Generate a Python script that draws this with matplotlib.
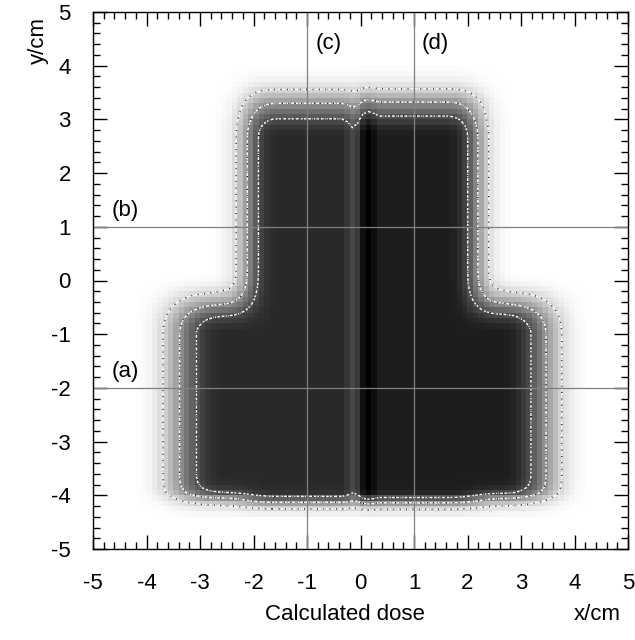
"""
Calculated dose map: grey-scale dose with isodose contours and
the profile lines (a)-(d)
"""

import numpy as np
import matplotlib
matplotlib.use('Agg')
import matplotlib.pyplot as plt
from matplotlib.ticker import MultipleLocator

plt.rcParams['font.family'] = ['Liberation Sans', 'DejaVu Sans']
plt.rcParams['axes.unicode_minus'] = False

# ---- data -------------------------------------------------------------
# plateau dose (grey level, 0 = white, 1 = black) left / right of the join
dose_left = 0.835
dose_right = 0.885
# narrow strips near the field join (cell centre x in cm, dose)
strip_x = [-0.25, -0.15, -0.05, 0.05, 0.15, 0.25]
strip_dose = [0.79, 0.72, 0.77, 0.94, 1.00, 0.95]

# 50 % edges of the two field parts (cm)
lower_field = dict(left=-3.39, right=3.45, bottom=-4.05, top=-0.45)
upper_field = dict(left=-2.12, right=2.18, bottom=-4.05, top=3.31)

# penumbra profiles: relative dose vs distance outside the 50 % edge (cm)
wide_d = [-0.8, -0.7, -0.6, -0.5, -0.4, -0.3, -0.2, -0.1, 0.0,
          0.1, 0.2, 0.3, 0.4, 0.5, 0.6, 0.7, 0.8]
wide_v = [1.0, 0.99, 0.97, 0.93, 0.87, 0.80, 0.71, 0.61, 0.50,
          0.39, 0.29, 0.20, 0.13, 0.08, 0.04, 0.02, 0.0]
narrow_d = [-0.5, -0.4, -0.3, -0.2, -0.1, 0.0, 0.1, 0.2, 0.3, 0.4, 0.5, 0.6, 0.7]
narrow_v = [1.0, 0.97, 0.91, 0.81, 0.66, 0.50, 0.34, 0.20, 0.10, 0.06, 0.03, 0.01, 0.0]
top_d = [-0.6, -0.5, -0.4, -0.3, -0.2, -0.1, 0.0, 0.1, 0.2, 0.3, 0.4, 0.5, 0.6, 0.7]
top_v = [1.0, 0.97, 0.90, 0.82, 0.72, 0.61, 0.50, 0.37, 0.25, 0.15, 0.08, 0.04, 0.02, 0.0]
step_d = [-0.5, -0.4, -0.3, -0.2, -0.1, 0.0, 0.1, 0.2, 0.3, 0.4, 0.5, 0.6]
step_v = [1.0, 0.96, 0.89, 0.79, 0.65, 0.50, 0.36, 0.23, 0.13, 0.06, 0.02, 0.0]
bottom_d = [-0.4, -0.3, -0.2, -0.1, 0.0, 0.1, 0.2, 0.3, 0.4]
bottom_v = [1.0, 0.98, 0.93, 0.80, 0.50, 0.26, 0.11, 0.04, 0.0]

# isodose levels (20 %, 50 %, 80 % of 0.85)
iso_levels = [0.17, 0.425, 0.68]

# profile lines
vlines = [-1, 1]
hlines = [1, -2]
line_labels = ['(a)', '(b)', '(c)', '(d)']
label_xy = [(-4.4, -1.7), (-4.4, 1.3), (-0.6, 4.42), (1.4, 4.42)]

# ---- build the dose grid (0.1 cm cells) --------------------------------
xc = np.linspace(-4.95, 4.95, 100)
yc = np.linspace(-4.95, 4.95, 100)
X, Y = np.meshgrid(xc, yc)

plateau = np.where(xc < 0, dose_left, dose_right)
for sx, sv in zip(strip_x, strip_dose):
    plateau[np.isclose(xc, sx)] = sv


def edge(dist, d, v):
    return np.interp(dist, d, v, left=v[0], right=v[-1])


def field(f, side_d, side_v, top_d_, top_v_):
    fx = edge(f['left'] - X, side_d, side_v) * edge(X - f['right'], side_d, side_v)
    fy = edge(f['bottom'] - Y, bottom_d, bottom_v) * edge(Y - f['top'], top_d_, top_v_)
    return fx * fy


f_low = field(lower_field, wide_d, wide_v, step_d, step_v)
f_up = field(upper_field, narrow_d, narrow_v, top_d, top_v)
rel = 1 - (1 - f_low) * (1 - f_up)
dose = plateau[None, :] * rel

# ---- plot --------------------------------------------------------------
fig = plt.figure(figsize=(6.35, 6.40), dpi=100)
ax = fig.add_axes([93 / 635, 91 / 640, 535 / 635, 537 / 640])

ax.imshow(dose, cmap='gray_r', vmin=0, vmax=1, origin='lower',
          extent=[-5, 5, -5, 5], interpolation='nearest', aspect='auto')

ax.contour(xc, yc, dose, levels=iso_levels, colors='white',
           linewidths=1.0, linestyles=[(0, (2, 1))])
ax.contour(xc, yc, dose, levels=iso_levels, colors='black',
           linewidths=1.0, linestyles=[(0, (0.6, 4))])

for v in vlines:
    ax.axvline(v, color='#808080', lw=0.9)
for h in hlines:
    ax.axhline(h, color='#808080', lw=0.9)

for lab, (lx, ly) in zip(line_labels, label_xy):
    ax.text(lx, ly, lab, fontsize=16, ha='center', va='center')

ax.set_xlim(-5, 5)
ax.set_ylim(-5, 5)
ax.xaxis.set_major_locator(MultipleLocator(1))
ax.yaxis.set_major_locator(MultipleLocator(1))
ax.xaxis.set_minor_locator(MultipleLocator(0.2))
ax.yaxis.set_minor_locator(MultipleLocator(0.2))
ax.tick_params(which='both', direction='in', top=True, right=True, width=1)
ax.tick_params(which='major', length=10)
ax.tick_params(which='minor', length=5)
ax.tick_params(axis='x', labelsize=16, pad=17)
ax.tick_params(axis='y', labelsize=16, pad=16)
for sp in ax.spines.values():
    sp.set_linewidth(1)

fig.text(345 / 635, 1 - 615 / 640, 'Calculated dose', fontsize=16,
         ha='center', va='center')
fig.text(597 / 635, 1 - 615 / 640, 'x/cm', fontsize=16,
         ha='center', va='center')
fig.text(38 / 635, 1 - 40 / 640, 'y/cm', fontsize=16, rotation=90,
         ha='center', va='center')

plt.savefig('out.png', dpi=100)
